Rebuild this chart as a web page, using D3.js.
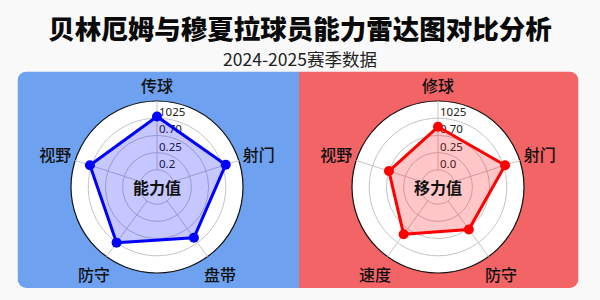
<!DOCTYPE html>
<html>
<head>
<meta charset="utf-8">
<script src="https://cdn.jsdelivr.net/npm/d3@7"></script>
<style>
  html, body { margin: 0; padding: 0; background: #f9f9f9; }
  svg { display: block; }
</style>
</head>
<body>
<div id="chart"></div>
<script>
// Radar comparison: Bellingham vs Musiala, 2024-2025 season

const leftAxes = ["传球", "射门", "盘带", "防守", "视野"];
const leftValues = [0.82, 0.84, 0.73, 0.80, 0.82];
const leftTicks = ["0.2", "0.25", "0.70", "1025"];

const rightAxes = ["修球", "射门", "防守", "速度", "视野"];
const rightValues = [0.70, 0.82, 0.61, 0.68, 0.60];
const rightTicks = ["0.0", "0.25", "0.70", "1025"];

const ringLevels = [0.2, 0.4, 0.6, 0.8];

const width = 600;
const height = 300;
const R = 86;
const cjk = "'Noto Sans CJK SC', sans-serif";

const svg = d3.select("#chart")
  .append("svg")
  .attr("width", width)
  .attr("height", height);

svg.append("rect")
  .attr("width", width)
  .attr("height", height)
  .attr("fill", "#f9f9f9");

// --- TITLE ---
svg.append("text")
  .attr("x", 300)
  .attr("y", 27)
  .attr("text-anchor", "middle")
  .attr("dominant-baseline", "central")
  .style("font-family", cjk)
  .style("font-weight", "900")
  .style("font-size", "26.5px")
  .style("fill", "#0a0a0a")
  .text("贝林厄姆与穆夏拉球员能力雷达图对比分析");

svg.append("text")
  .attr("x", 300)
  .attr("y", 58)
  .attr("text-anchor", "middle")
  .attr("dominant-baseline", "central")
  .style("font-family", cjk)
  .style("font-size", "17.5px")
  .style("fill", "#222")
  .text("2024-2025赛季数据");

// --- PANELS ---
const panelX0 = 17.5, panelX1 = 578.5, panelY0 = 71.5, panelY1 = 288;
const mid = 299;

svg.append("clipPath")
  .attr("id", "panelClip")
  .append("rect")
  .attr("x", panelX0)
  .attr("y", panelY0)
  .attr("width", panelX1 - panelX0)
  .attr("height", panelY1 - panelY0)
  .attr("rx", 9);

const panels = svg.append("g").attr("clip-path", "url(#panelClip)");
panels.append("rect")
  .attr("x", panelX0).attr("y", panelY0)
  .attr("width", mid - panelX0).attr("height", panelY1 - panelY0)
  .attr("fill", "#6ea2f0");
panels.append("rect")
  .attr("x", mid).attr("y", panelY0)
  .attr("width", panelX1 - mid).attr("height", panelY1 - panelY0)
  .attr("fill", "#f26466");

// --- RADAR ---
function radar(cx, cy, axes, values, ticks, color, centerText) {
  const g = svg.append("g").attr("transform", `translate(${cx},${cy})`);
  const r = d3.scaleLinear().domain([0, 1]).range([0, R]);
  const angle = d3.scaleLinear().domain([0, axes.length]).range([0, 2 * Math.PI]);

  g.append("circle")
    .attr("r", r(1))
    .attr("fill", "#fff")
    .attr("stroke", "#111")
    .attr("stroke-width", 1.2);

  g.selectAll("circle.ring")
    .data(ringLevels)
    .join("circle")
    .attr("class", "ring")
    .attr("r", d => r(d))
    .attr("fill", "none")
    .attr("stroke", "#c4c4c4")
    .attr("stroke-width", 1);

  g.selectAll("line.spoke")
    .data(axes)
    .join("line")
    .attr("class", "spoke")
    .attr("x1", (d, i) => Math.sin(angle(i)) * r(ringLevels[0]))
    .attr("y1", (d, i) => -Math.cos(angle(i)) * r(ringLevels[0]))
    .attr("x2", (d, i) => Math.sin(angle(i)) * r(1))
    .attr("y2", (d, i) => -Math.cos(angle(i)) * r(1))
    .attr("stroke", "#c4c4c4")
    .attr("stroke-width", 1);

  g.selectAll("text.tick")
    .data(ticks)
    .join("text")
    .attr("class", "tick")
    .attr("x", 2)
    .attr("y", (d, i) => -r(ringLevels[i]) - 2)
    .style("font-family", "'Noto Sans', sans-serif")
    .style("font-size", "11.5px")
    .style("fill", "#222")
    .text(d => d);

  const line = d3.lineRadial()
    .angle((d, i) => angle(i))
    .radius(d => r(d))
    .curve(d3.curveLinearClosed);

  g.append("path")
    .datum(values)
    .attr("d", line)
    .attr("fill", color)
    .attr("fill-opacity", 0.22)
    .attr("stroke", color)
    .attr("stroke-width", 3)
    .attr("stroke-linejoin", "round");

  g.selectAll("circle.pt")
    .data(values)
    .join("circle")
    .attr("class", "pt")
    .attr("cx", (d, i) => Math.sin(angle(i)) * r(d))
    .attr("cy", (d, i) => -Math.cos(angle(i)) * r(d))
    .attr("r", 5)
    .attr("fill", color);

  g.selectAll("text.axis")
    .data(axes)
    .join("text")
    .attr("class", "axis")
    .attr("x", (d, i) => Math.sin(angle(i)) * 107)
    .attr("y", (d, i) => -Math.cos(angle(i)) * (i === 0 ? 102 : 107))
    .attr("text-anchor", "middle")
    .attr("dominant-baseline", "central")
    .style("font-family", cjk)
    .style("font-weight", "500")
    .style("font-size", "16px")
    .style("fill", "#111")
    .text(d => d);

  g.append("text")
    .attr("text-anchor", "middle")
    .attr("dominant-baseline", "central")
    .style("font-family", cjk)
    .style("font-weight", "bold")
    .style("font-size", "16px")
    .style("fill", "#111")
    .text(centerText);
}

radar(157, 187, leftAxes, leftValues, leftTicks, "#0000ff", "能力值");
radar(438, 187, rightAxes, rightValues, rightTicks, "#ff0000", "移力值");
</script>
</body>
</html>
